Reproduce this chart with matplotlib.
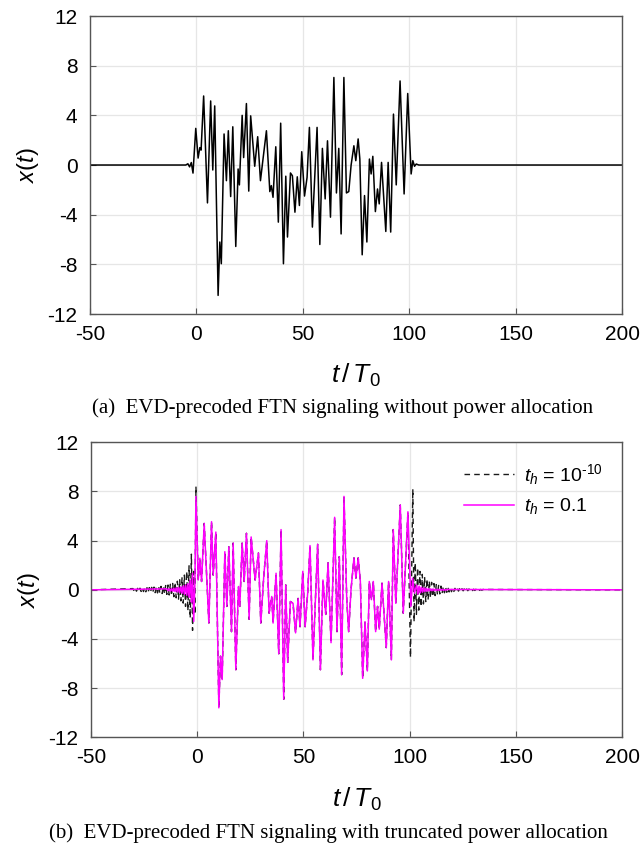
import numpy as np
import matplotlib
matplotlib.use("Agg")
import matplotlib.pyplot as plt

plt.rcParams['font.family'] = ['Liberation Sans', 'DejaVu Sans']
plt.rcParams['mathtext.fontset'] = 'custom'
plt.rcParams['mathtext.rm'] = 'Liberation Sans'
plt.rcParams['mathtext.it'] = 'Liberation Sans:italic'

# ---------------- data ----------------
x_ticks = [-50, 0, 50, 100, 150, 200]
y_ticks = [-12, -8, -4, 0, 4, 8, 12]

# (a) signal without power allocation
a_t = [-50, -5, -4.0, -3.2, -2.4, -1.6, -0.3, 0.8, 1.6, 2.2, 3.4, 5.2, 6.7, 7.7, 8.6,
       10.2, 11.0, 11.7, 13.0, 14.1, 15.0, 16.1, 17.1, 18.5, 19.6, 20.2, 21.5, 22.2,
       23.5, 24.6, 25.5, 27.4, 28.8, 30.1, 31.3, 32.9, 34.5, 35.2, 36.0, 37.3, 38.5,
       39.6, 40.9, 42.0, 42.8, 44.2, 45.1, 46.3, 47.4, 48.4, 49.5, 50.8, 52.0, 53.1,
       54.5, 56.7, 58.0, 59.2, 60.5, 61.6, 63.0, 64.6, 65.8, 66.9, 68.0, 69.3, 70.5,
       71.6, 72.7, 74.0, 74.9, 76.0, 76.8, 77.9, 79.0, 80.1, 81.3, 82.1, 82.9, 84.1,
       85.1, 85.9, 87.0, 89.0, 90.1, 91.3, 92.6, 93.9, 95.7, 97.6, 99.3, 100.9, 101.7,
       102.5, 103.3, 104.5, 200]
a_v = [0, 0, 0.1, -0.15, 0.2, -0.65, 2.95, 0.56, 1.4, 1.2, 5.56, -3.05, 5.16, -0.4, 4.76,
       -10.5, -6.2, -7.95, 2.5, -1.26, 2.76, -2.54, 3.08, -6.56, -0.32, -1.6, 4.0, 0.6,
       4.95, -2.1, 3.96, -0.1, 2.28, -1.26, 0.48, 2.76, -2.14, -1.66, -2.6, 1.47, -4.6,
       3.37, -7.95, -0.9, -5.8, -0.64, -0.86, -3.8, -0.95, -3.26, 1.07, -2.5, -1.0, 3.03,
       -5.0, 3.03, -6.4, 1.34, -2.73, 1.95, -4.2, 7.05, -2.25, 1.34, -5.55, 7.05, -2.25,
       -2.14, 0.0, 1.55, 0.35, 2.1, 0.48, -7.23, -2.46, -6.2, 0.48, -0.72, 0.7, -3.75,
       -1.93, -3.13, 0.21, -5.35, 0.21, -5.4, 4.1, -1.6, 6.77, -2.33, 5.76, -0.72, 0.35,
       -0.1, 0.08, 0.0, 0]

# (b) common middle part of both curves
b_mid_t = [0.47, 1.25, 2.04, 3.29, 5.48, 6.74, 7.52, 8.77, 10.18, 10.96, 11.75, 13.0,
           13.94, 14.88, 16.13, 16.92, 18.17, 19.42, 20.05, 21.15, 22.09, 23.18, 24.44,
           25.38, 27.26, 28.82, 29.92, 31.33, 32.74, 33.83, 35.09, 35.71, 37.12, 38.38,
           39.47, 40.73, 41.67, 42.6, 43.86, 45.11, 46.3, 47.5, 48.4, 49.7, 50.8, 52.0,
           53.1, 54.5, 56.7, 58.0, 59.2, 60.5, 61.6, 63.0, 64.7, 65.8, 66.9, 68.0, 69.1,
           70.4, 71.3, 72.4, 73.8, 74.7, 75.8, 76.8, 77.9, 79.0, 80.1, 81.0, 82.0, 82.9,
           84.0, 84.9, 85.7, 87.0, 89.0, 90.1, 91.4, 92.3, 93.5, 95.6, 97.0, 99.2]
b_mid_v = [0.8, 2.57, 0.68, 5.4, -2.7, 5.54, 1.2, 4.7, -9.6, -5.4, -7.3, 3.1,
           -1.35, 3.5, -3.4, 3.8, -6.5, 0.27, -1.35, 3.8, 0.68, 4.6, -2.4,
           4.3, 0.8, 3.0, -2.7, 1.1, 4.0, -1.9, -0.54, -2.7, 1.35, -5.2,
           4.9, -8.9, 0.4, -5.9, -0.95, -1.1, -3.5, -0.7, -3.0, 1.5, -3.0, -0.27,
           3.6, -5.7, 3.7, -6.5, 0.8, -2.0, 2.2, -4.3, 5.9, -3.4, 2.7, -6.9, 7.6,
           -0.8, -3.4, 0.0, 2.6, 0.95, 2.6, 0.68, -7.2, -2.6, -6.6, 0.68, -0.8, 0.68,
           -3.4, -1.35, -3.2, 0.54, -4.7, 0.68, -5.7, 4.9, -1.1, 6.9, -1.9, 6.35]

# th = 1e-10 (black dashed): leading ringing, first peak, trailing ringing
blk_head_t = np.arange(-30.25, -1.0, 0.55)
blk_head_v = [0.10, -0.10, 0.11, -0.11, 0.12, -0.12, 0.13, -0.13, 0.14, -0.14,
              0.15, -0.16, 0.17, -0.17, 0.18, -0.19, 0.20, -0.21, 0.22, -0.23,
              0.24, -0.25, 0.26, -0.27, 0.28, -0.30, 0.31, -0.33, 0.35, -0.37,
              0.39, -0.42, 0.45, -0.48, 0.52, -0.56, 0.60, -0.65, 0.70, -0.76,
              0.82, -0.90, 0.98, -1.08, 1.2, -1.35, 1.5, -1.7, 1.95, -2.3,
              2.9, -3.3, 1.5, -2.0]
blk_peak_t = [-0.6]
blk_peak_v = [8.4]
blk_edge_t = [100.4, 101.5]
blk_edge_v = [-5.5, 8.2]
blk_tail_t = np.arange(102.1, 135.0, 0.55)
blk_tail_v = [-2.6, 2.2, -2.0, 1.8, -1.65, 1.5, -1.38, 1.26, -1.15, 1.05,
              -0.96, 0.88, -0.80, 0.73, -0.67, 0.61, -0.56, 0.51, -0.47, 0.43,
              -0.39, 0.36, -0.33, 0.30, -0.28, 0.26, -0.24, 0.22, -0.20, 0.19,
              -0.17, 0.16, -0.15, 0.14, -0.13, 0.12, -0.11, 0.11, -0.10, 0.10,
              -0.09, 0.09, -0.08, 0.08, -0.08, 0.07, -0.07, 0.07, -0.06, 0.06,
              -0.06, 0.05, -0.05, 0.05, -0.04, 0.04, -0.04, 0.03, -0.03, 0.03]

# th = 0.1 (magenta)
mag_head_t = np.arange(-14.3, -1.0, 0.55)
mag_head_v = [0.08, -0.08, 0.09, -0.10, 0.11, -0.12, 0.13, -0.14, 0.16, -0.18,
              0.20, -0.22, 0.25, -0.28, 0.32, -0.36, 0.40, -0.45, 0.50, -0.6,
              0.8, -1.0, 1.35, -2.57, 0.5]
mag_peak_t = [-0.6]
mag_peak_v = [7.6]
mag_tail_t = [100.6, 101.4, 102.3, 103.3] + list(np.arange(103.9, 118.0, 0.55))
mag_tail_v = [-1.35, 0.95, -0.27, 0.4,
              -0.35, 0.30, -0.25, 0.22, -0.19, 0.16, -0.14, 0.12, -0.11, 0.10,
              -0.09, 0.08, -0.08, 0.07, -0.07, 0.06, -0.06, 0.05, -0.05, 0.05,
              -0.04, 0.04, -0.04, 0.03, -0.03, 0.03]

blk_t = np.concatenate([[-50], blk_head_t, blk_peak_t, b_mid_t, blk_edge_t, blk_tail_t, [200]])
blk_v = np.concatenate([[0], blk_head_v, blk_peak_v, b_mid_v, blk_edge_v, blk_tail_v, [0]])
mag_t = np.concatenate([[-50], mag_head_t, mag_peak_t, b_mid_t, mag_tail_t, [200]])
mag_v = np.concatenate([[0], mag_head_v, mag_peak_v, b_mid_v, mag_tail_v, [0]])

# ---------------- figure ----------------
fig = plt.figure(figsize=(6.41, 8.48), dpi=100)
ax1 = fig.add_axes([0.1404, 0.6297, 0.8300, 0.3514])
ax2 = fig.add_axes([0.1420, 0.1305, 0.8284, 0.3479])

def style(ax):
    ax.set_xlim(-50, 200)
    ax.set_ylim(-12, 12)
    ax.set_xticks(x_ticks)
    ax.set_yticks(y_ticks)
    ax.set_xticklabels([str(v) for v in x_ticks])
    ax.set_yticklabels([str(v) for v in y_ticks])
    ax.grid(True, color='#e6e6e6', linewidth=0.9)
    ax.set_axisbelow(True)
    for s in ax.spines.values():
        s.set_color('#555555')
        s.set_linewidth(1.0)
    ax.tick_params(direction='in', length=4, width=0.8, color='#555555',
                   labelsize=15)
    ax.tick_params(axis='x', pad=8)
    ax.tick_params(axis='y', pad=9)
    ax.set_xlabel(r'$t\,/\,T_0$', fontsize=19, labelpad=13)
    ax.set_ylabel(r'$x(t)$', fontsize=17, labelpad=5)

style(ax1)
ax1.plot(a_t, a_v, color='black', linewidth=1.1)

style(ax2)
ax2.plot(blk_t, blk_v, color='#1a1a1a', linewidth=1.0, linestyle=(0, (4, 3)),
         label=r'$t_h$ = 10$^{\mathrm{\text{-}10}}$')
ax2.plot(mag_t, mag_v, color='#ff00ff', linewidth=1.1, label=r'$t_h$ = 0.1')
ax2.legend(loc='upper right', frameon=False, fontsize=14, handlelength=2.6,
           handletextpad=0.5, borderaxespad=0.6, labelspacing=0.5)

fig.text(0.535, 0.519, '(a)  EVD-precoded FTN signaling without power allocation',
         ha='center', va='center', fontsize=15, family='Liberation Serif')
fig.text(0.513, 0.0177, '(b)  EVD-precoded FTN signaling with truncated power allocation',
         ha='center', va='center', fontsize=15, family='Liberation Serif')

fig.savefig('out.png', dpi=100)
